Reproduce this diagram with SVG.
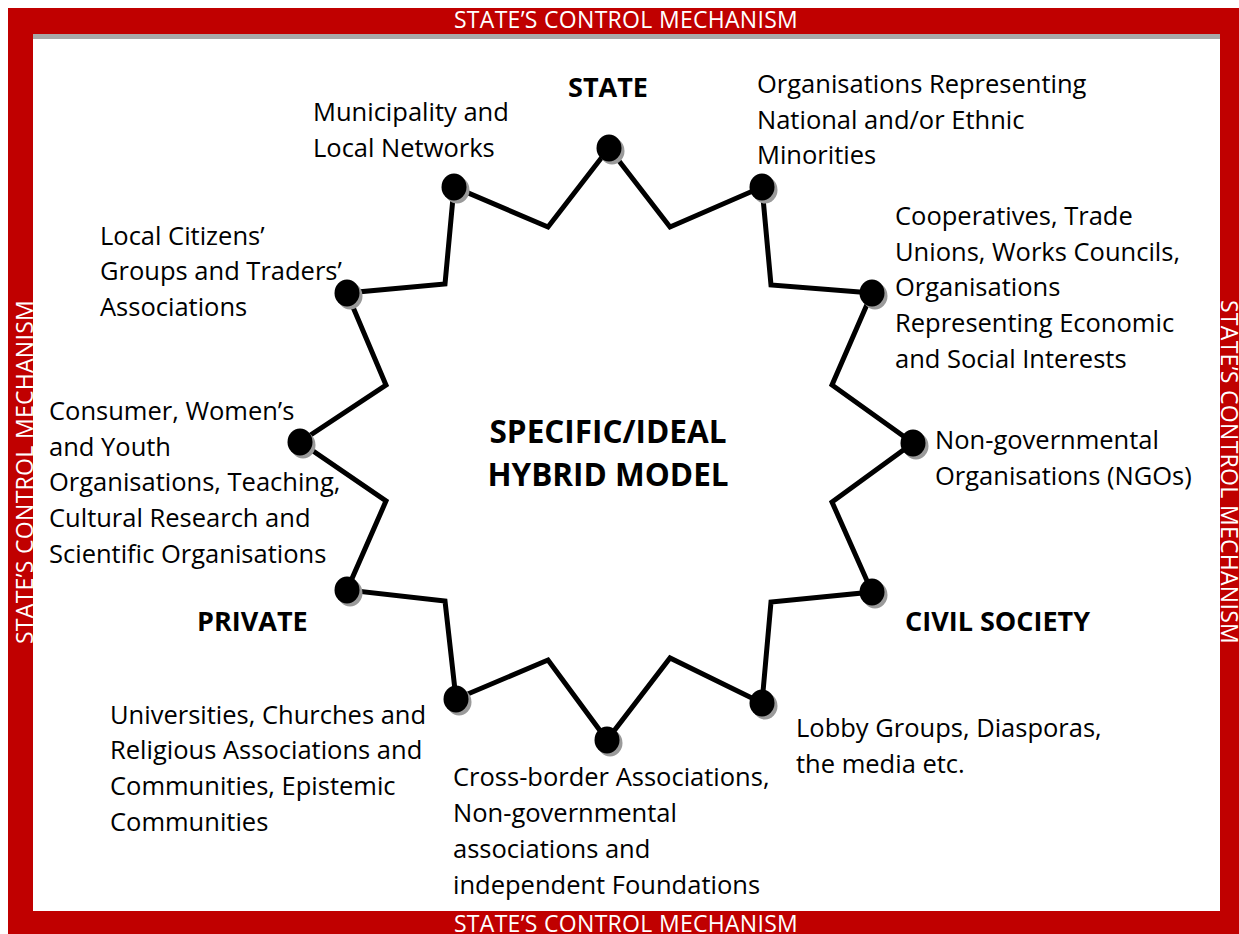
<svg xmlns="http://www.w3.org/2000/svg" width="1239" height="934" viewBox="0 0 1239 934">
<style>
.lbl{font-family:"Open Sans","Liberation Sans",sans-serif;font-size:25.5px;fill:#000}
.bold{font-family:"Open Sans","Liberation Sans",sans-serif;font-size:27px;font-weight:bold;fill:#000}
.big{font-family:"Open Sans","Liberation Sans",sans-serif;font-size:31.5px;font-weight:bold;fill:#000}
.frame{font-family:"Open Sans","Liberation Sans",sans-serif;font-size:23px;letter-spacing:0.3px;fill:#fff}
.dot{fill:#000}
.sh{fill:#9a9a9a}
.star{fill:none;stroke:#000;stroke-width:5;stroke-linejoin:miter}
</style>
<rect x="0" y="0" width="1239" height="934" fill="#fff"/>
<g id="frame">
<rect x="8" y="8" width="1240" height="940" fill="#c00000"/>
<rect x="33" y="34" width="1187" height="877" fill="#fff"/>
<rect x="33" y="34" width="1187" height="5" fill="#a8a8a8"/>
<text class="frame" x="626" y="28" text-anchor="middle">STATE’S CONTROL MECHANISM</text>
<text class="frame" x="626" y="932" text-anchor="middle">STATE’S CONTROL MECHANISM</text>
<text class="frame" transform="translate(33,472) rotate(-90)" text-anchor="middle">STATE’S CONTROL MECHANISM</text>
<text class="frame" transform="translate(1221,472) rotate(90)" text-anchor="middle">STATE’S CONTROL MECHANISM</text>
</g>
<g id="connectors">
<polygon class="star" points="609,148 670,227 762,187 771,285 872,293 832,385 913,443 832,502 872,592 771,602 762,703 670,658 607,740 548,660 456,699 445,601 347,590 386,501 300,442 386,385 347,293 445,284 454,187 548,227"/>
</g>
<g id="center">
<text class="big" x="608" y="443" text-anchor="middle">SPECIFIC/IDEAL</text>
<text class="big" x="608" y="486" text-anchor="middle">HYBRID MODEL</text>
</g>
<g id="n-state">
<ellipse class="sh" cx="612" cy="151" rx="12.5" ry="13.5"/><ellipse class="dot" cx="609" cy="148" rx="12.5" ry="13.5"/>
<text class="bold" x="608" y="97" text-anchor="middle">STATE</text>
</g>
<g id="n-minorities">
<ellipse class="sh" cx="765" cy="190" rx="12.5" ry="13.5"/><ellipse class="dot" cx="762" cy="187" rx="12.5" ry="13.5"/>
<text class="lbl" x="757" y="93">Organisations Representing</text>
<text class="lbl" x="757" y="129">National and/or Ethnic</text>
<text class="lbl" x="757" y="164">Minorities</text>
</g>
<g id="n-cooperatives">
<ellipse class="sh" cx="875" cy="296" rx="12.5" ry="13.5"/><ellipse class="dot" cx="872" cy="293" rx="12.5" ry="13.5"/>
<text class="lbl" x="895" y="225">Cooperatives, Trade</text>
<text class="lbl" x="895" y="261">Unions, Works Councils,</text>
<text class="lbl" x="895" y="296">Organisations</text>
<text class="lbl" x="895" y="332">Representing Economic</text>
<text class="lbl" x="895" y="368">and Social Interests</text>
</g>
<g id="n-ngos">
<ellipse class="sh" cx="916" cy="446" rx="12.5" ry="13.5"/><ellipse class="dot" cx="913" cy="443" rx="12.5" ry="13.5"/>
<text class="lbl" x="935" y="449">Non-governmental</text>
<text class="lbl" x="935" y="485">Organisations (NGOs)</text>
</g>
<g id="n-civil">
<ellipse class="sh" cx="875" cy="595" rx="12.5" ry="13.5"/><ellipse class="dot" cx="872" cy="592" rx="12.5" ry="13.5"/>
<text class="bold" x="905" y="631">CIVIL SOCIETY</text>
</g>
<g id="n-lobby">
<ellipse class="sh" cx="765" cy="706" rx="12.5" ry="13.5"/><ellipse class="dot" cx="762" cy="703" rx="12.5" ry="13.5"/>
<text class="lbl" x="796" y="737">Lobby Groups, Diasporas,</text>
<text class="lbl" x="796" y="773">the media etc.</text>
</g>
<g id="n-crossborder">
<ellipse class="sh" cx="610" cy="743" rx="12.5" ry="13.5"/><ellipse class="dot" cx="607" cy="740" rx="12.5" ry="13.5"/>
<text class="lbl" x="453" y="786">Cross-border Associations,</text>
<text class="lbl" x="453" y="822">Non-governmental</text>
<text class="lbl" x="453" y="858">associations and</text>
<text class="lbl" x="453" y="894">independent Foundations</text>
</g>
<g id="n-universities">
<ellipse class="sh" cx="459" cy="702" rx="12.5" ry="13.5"/><ellipse class="dot" cx="456" cy="699" rx="12.5" ry="13.5"/>
<text class="lbl" x="110" y="724">Universities, Churches and</text>
<text class="lbl" x="110" y="759">Religious Associations and</text>
<text class="lbl" x="110" y="795">Communities, Epistemic</text>
<text class="lbl" x="110" y="831">Communities</text>
</g>
<g id="n-private">
<ellipse class="sh" cx="350" cy="593" rx="12.5" ry="13.5"/><ellipse class="dot" cx="347" cy="590" rx="12.5" ry="13.5"/>
<text class="bold" x="197" y="631">PRIVATE</text>
</g>
<g id="n-consumer">
<ellipse class="sh" cx="303" cy="445" rx="12.5" ry="13.5"/><ellipse class="dot" cx="300" cy="442" rx="12.5" ry="13.5"/>
<text class="lbl" x="49" y="420">Consumer, Women’s</text>
<text class="lbl" x="49" y="456">and Youth</text>
<text class="lbl" x="49" y="491">Organisations, Teaching,</text>
<text class="lbl" x="49" y="527">Cultural Research and</text>
<text class="lbl" x="49" y="563">Scientific Organisations</text>
</g>
<g id="n-citizens">
<ellipse class="sh" cx="350" cy="296" rx="12.5" ry="13.5"/><ellipse class="dot" cx="347" cy="293" rx="12.5" ry="13.5"/>
<text class="lbl" x="100" y="245">Local Citizens’</text>
<text class="lbl" x="100" y="280">Groups and Traders’</text>
<text class="lbl" x="100" y="316">Associations</text>
</g>
<g id="n-municipality">
<ellipse class="sh" cx="457" cy="190" rx="12.5" ry="13.5"/><ellipse class="dot" cx="454" cy="187" rx="12.5" ry="13.5"/>
<text class="lbl" x="313" y="121">Municipality and</text>
<text class="lbl" x="313" y="157">Local Networks</text>
</g>
</svg>
